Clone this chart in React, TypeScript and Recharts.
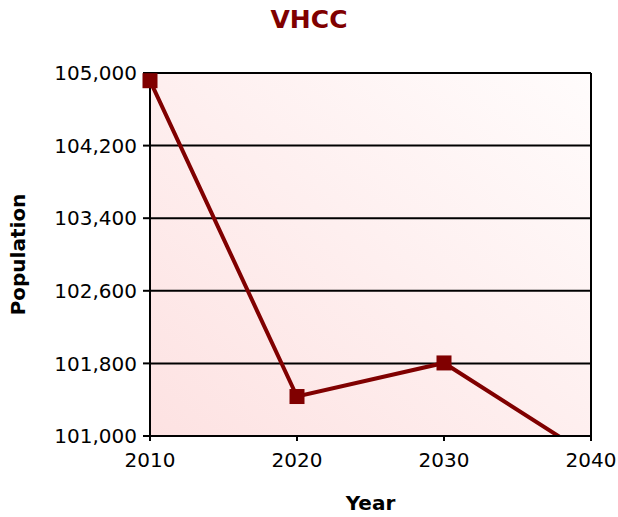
import { CartesianGrid, Label, Line, LineChart, ReferenceLine, XAxis, YAxis } from "recharts";

const years = [2010, 2020, 2030, 2040];
const population = [104915, 101435, 101805, 100770];
const xTicks = [2010, 2020, 2030, 2040];
const yTicks = [101000, 101800, 102600, 103400, 104200, 105000];
const yDomain = [101000, 105000];

const data = years.map((year, i) => ({ year, population: population[i] }));

const MAROON = "#800000";
const FONT = "'DejaVu Sans', Verdana, sans-serif";

const fmt = (v: number) => v.toLocaleString("en-US");

// square marker; points outside the axis range are not drawn
function SquareDot(props: any) {
  const { cx, cy, value, index } = props;
  if (cx == null || cy == null || value < yDomain[0] || value > yDomain[1]) return <g key={index} />;
  return <rect key={index} x={cx - 7.5} y={cy - 7.5} width={15} height={15} fill={MAROON} />;
}

export default function App() {
  return (
    <div style={{ position: "relative", width: 618, height: 517, fontFamily: FONT }}>
      <style>{`body { margin: 0; } .recharts-line-dots { clip-path: none; }`}</style>
      <div
        style={{
          position: "absolute",
          top: 5,
          left: 0,
          width: 618,
          textAlign: "center",
          fontSize: 25,
          fontWeight: "bold",
          color: MAROON,
          lineHeight: "30px",
        }}
      >
        VHCC
      </div>
      <LineChart width={618} height={517} data={data} margin={{ top: 73, right: 27, left: 0, bottom: 0 }}>
        <defs>
          <linearGradient id="plotBg" x1="0" y1="1" x2="1" y2="0">
            <stop offset="0%" stopColor="#fde2e2" />
            <stop offset="100%" stopColor="#fffcfc" />
          </linearGradient>
        </defs>
        <CartesianGrid vertical={false} stroke="#000" strokeWidth={2} fill="url(#plotBg)" fillOpacity={1} />
        <XAxis
          dataKey="year"
          type="number"
          domain={[2010, 2040]}
          ticks={xTicks}
          height={81}
          tickSize={5}
          tickMargin={12}
          axisLine={{ stroke: "#000", strokeWidth: 2 }}
          tickLine={{ stroke: "#000", strokeWidth: 2 }}
          tick={{ fontSize: 20, fill: "#000", fontFamily: FONT }}
        >
          <Label
            content={(p: any) => (
              <text
                x={p.viewBox.x + p.viewBox.width / 2}
                y={p.viewBox.y + 74}
                textAnchor="middle"
                fontSize={20}
                fontWeight="bold"
                fontFamily={FONT}
                fill="#000"
              >
                Year
              </text>
            )}
          />
        </XAxis>
        <YAxis
          domain={yDomain}
          allowDataOverflow
          ticks={yTicks}
          width={150}
          tickSize={7}
          tickMargin={6}
          tickFormatter={fmt}
          axisLine={{ stroke: "#000", strokeWidth: 2 }}
          tickLine={{ stroke: "#000", strokeWidth: 2 }}
          tick={{ fontSize: 20, fill: "#000", fontFamily: FONT }}
        >
          <Label
            content={(p: any) => {
              const x = p.viewBox.x + 18;
              const y = p.viewBox.y + p.viewBox.height / 2;
              return (
                <text
                  x={x}
                  y={y}
                  transform={`rotate(-90 ${x} ${y})`}
                  textAnchor="middle"
                  dominantBaseline="central"
                  fontSize={20}
                  fontWeight="bold"
                  fontFamily={FONT}
                  fill="#000"
                >
                  Population
                </text>
              );
            }}
          />
        </YAxis>
        <ReferenceLine x={2040} stroke="#000" strokeWidth={2} />
        <Line
          dataKey="population"
          stroke={MAROON}
          strokeWidth={4}
          dot={SquareDot}
          activeDot={false}
          isAnimationActive={false}
        />
      </LineChart>
    </div>
  );
}
